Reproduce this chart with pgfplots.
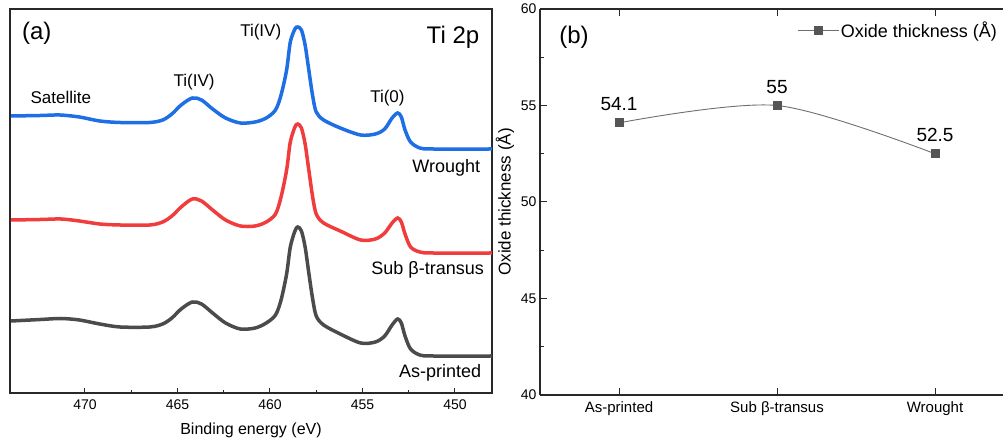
\documentclass[border=0pt]{standalone}
\usepackage{fontspec}
\setmainfont{Liberation Sans}
\usepackage{pgfplots}
\pgfplotsset{compat=1.18}

\definecolor{cblue}{RGB}{30,110,230}
\definecolor{cred}{RGB}{240,60,60}
\definecolor{cgray}{RGB}{75,75,75}
\definecolor{cmark}{RGB}{85,85,85}
\definecolor{cline}{RGB}{110,110,110}
\definecolor{caxis}{RGB}{40,40,40}

\newcommand{\fs}[1]{\fontsize{#1}{#1}\selectfont}

\begin{document}
\begin{tikzpicture}[x=1pt,y=1pt]
\useasboundingbox (0,0) rectangle (1003,443);
% ---------------- panel (a)
\begin{axis}[
  at={(10pt,50pt)}, anchor=south west,
  scale only axis, width=482pt, height=384pt,
  x dir=reverse, xmin=448, xmax=474.05, ymin=7, ymax=391,
  xtick={450,455,...,470}, minor x tick num=1,
  ytick=\empty,
  xtick pos=left, tick align=inside,
  major tick length=5pt, minor tick length=3pt,
  axis line style={line width=1.2pt, caxis},
  every tick/.style={line width=1pt, caxis},
  xticklabel style={font=\fs{14}, yshift=-3pt},
  /pgf/number format/assume math mode=true,
  xlabel={Binding energy (eV)},
  xlabel style={font=\fs{16}, yshift=-7pt},
  clip=false,
]
\addplot[cblue, line width=3.5pt, smooth, tension=0.5] coordinates {
(474,284) (472.4,284.5) (471.35,285) (470.3,283) (469.2,279) (468.1,277.5)
(466.5,277.5) (465.8,280) (465.3,286) (464.8,295) (464.2,302) (463.7,300)
(463.1,291) (462.4,282) (461.6,277) (460.8,278) (460.2,282) (459.7,290)
(459.4,305) (459.1,330) (458.9,358) (458.65,371) (458.5,373) (458.3,370)
(458.1,355) (457.9,330) (457.7,305) (457.5,288) (457.1,280) (456.2,272)
(455.1,265) (454.3,266) (453.8,271) (453.4,282) (453.1,287) (452.9,283)
(452.7,270) (452.4,258) (451.9,252) (451.2,251) (448,251)};
\addplot[cred, line width=3.5pt, smooth, tension=0.5] coordinates {
(474,180) (472.4,180.5) (471.3,181) (470.3,179) (469.2,176) (468.1,175)
(466.5,175) (465.8,178) (465.3,184) (464.8,193) (464.2,201) (463.7,199)
(463.1,190) (462.4,180) (461.6,174) (460.8,174) (460.2,178) (459.7,186)
(459.4,203) (459.1,230) (458.9,258) (458.65,273) (458.5,276) (458.3,272)
(458.1,256) (457.9,230) (457.7,204) (457.5,186) (457.1,177) (456.2,169)
(455.1,160) (454.3,161) (453.8,167) (453.4,177) (453.1,182) (452.9,178)
(452.7,166) (452.4,153) (451.9,148) (451.2,147) (448,147)};
\addplot[cgray, line width=3.5pt, smooth, tension=0.5] coordinates {
(474,79) (472.4,80.5) (471.3,81.5) (470.3,80) (469.2,76) (468.1,73)
(466.5,73) (465.8,76) (465.3,82) (464.8,91) (464.2,98) (463.7,96)
(463.1,87) (462.4,77) (461.6,71) (460.8,72) (460.2,77) (459.7,85)
(459.4,100) (459.1,126) (458.9,153) (458.65,169) (458.5,173) (458.3,169)
(458.1,153) (457.9,127) (457.7,102) (457.5,84) (457.1,75) (456.2,66)
(455.1,57) (454.3,58) (453.8,64) (453.4,75) (453.1,81) (452.9,77)
(452.7,64) (452.4,51) (451.9,45) (451.2,44) (448,44)};
\node[font=\fs{24}] at (axis cs:472.6,367) {(a)};
\node[font=\fs{24}, anchor=east] at (axis cs:448.5,363) {Ti 2p};
\node[font=\fs{17}] at (axis cs:471.3,303) {Satellite};
\node[font=\fs{17}] at (axis cs:464.1,318) {Ti(IV)};
\node[font=\fs{17}] at (axis cs:460.5,368) {Ti(IV)};
\node[font=\fs{17}] at (axis cs:453.65,302) {Ti(0)};
\node[font=\fs{18}, anchor=east] at (axis cs:448.45,232) {Wrought};
\node[font=\fs{18}, anchor=east] at (axis cs:448.25,130) {Sub β-transus};
\node[font=\fs{18}, anchor=east] at (axis cs:448.4,27) {As-printed};
\end{axis}
% ---------------- panel (b)
\begin{axis}[
  at={(540pt,48pt)}, anchor=south west,
  scale only axis, width=474pt, height=386pt,
  xmin=-0.5, xmax=2.5, ymin=40, ymax=60,
  xtick={0,1,2}, xticklabels={As-printed, Sub β-transus, Wrought},
  ytick={40,45,...,60}, minor y tick num=1,
  axis x line=box, axis y line=left,
  axis line style={-, line width=1.2pt, caxis},
  tick align=inside,
  major tick length=7pt, minor tick length=4pt,
  every tick/.style={line width=1pt, caxis},
  xticklabel style={font=\fs{15}, yshift=-3pt},
  yticklabel style={font=\fs{14}},
  /pgf/number format/assume math mode=true,
  ylabel={Oxide thickness (Å)},
  ylabel style={font=\fs{17}},
  legend style={draw=none, fill=none, font=\fs{18}, at={(0.975,0.945)}, anchor=east},
  legend image code/.code={\draw[mark repeat=2,mark phase=2] plot coordinates {(0pt,0pt) (20pt,0pt) (40pt,0pt)};},
  clip=false,
]
\addplot[cline, line width=0.9pt, smooth, mark=square*, mark size=4pt,
  mark options={fill=cmark, draw=cmark, solid},
  nodes near coords,
  every node near coord/.append style={font=\fs{19}, black, anchor=south, yshift=8pt}]
  coordinates {(0,54.1) (1,55) (2,52.5)};
\addlegendentry{Oxide thickness (Å)}
\node[font=\fs{24}] at (axis cs:-0.285,58.55) {(b)};
\end{axis}
\end{tikzpicture}
\end{document}
